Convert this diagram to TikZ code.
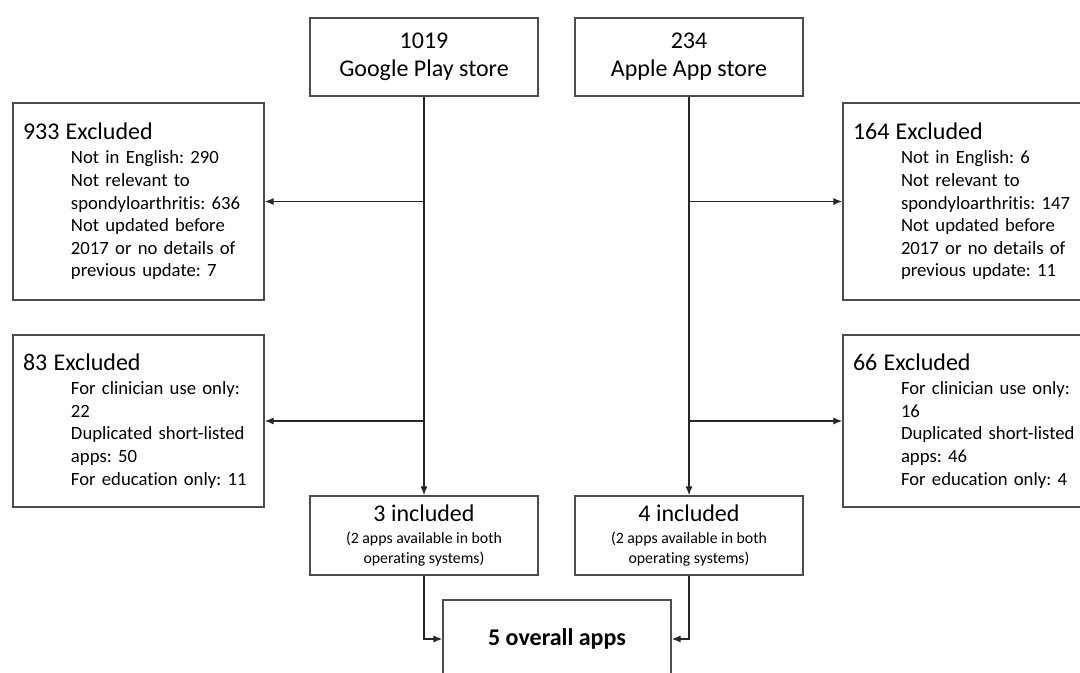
\documentclass[tikz,border=0pt]{standalone}
\usepackage{fontspec}
\setmainfont{Carlito}[Ligatures=NoCommon]
\usepackage{tikz}
\usetikzlibrary{arrows.meta}
\frenchspacing
\newcommand{\hsz}{\fontsize{12}{14}\selectfont}
\newcommand{\ssz}{\fontsize{9.35}{11.3}\selectfont}
\newcommand{\tsz}{\fontsize{7.9}{10}\selectfont}
\newcommand{\ind}{\hspace*{24pt}}

\begin{document}
\begin{tikzpicture}[x=0.5pt,y=-0.5pt,box/.style={shape=rectangle,draw=black!70,line width=0.7pt,inner sep=0pt},store/.style={box,minimum width=114pt,minimum height=39pt,align=center,font=\hsz},excl/.style={box,text width=115.5pt,inner xsep=5pt,align=left,font=\ssz},incl/.style={store,minimum height=39.5pt},arr/.style={draw=black!85,line width=0.7pt,-{Latex[length=4.5pt,width=3.6pt]}}]
\def\xa{424};
\def\xb{689};
\def\xl{138.5};
\def\xr{968.5};

\useasboundingbox (0,0) rectangle (1080,673);
\clip (0,0) rectangle (1080,673);

\node[store] (gp) at (\xa,57) {1019\\Google Play store};
\node[store] (ap) at (\xb,57) {234\\Apple App store};

\node[excl,minimum height=98.5pt] (gx1) at (\xl,201.5) {{\hsz 933 Excluded}\\[0.8pt]
\ind Not in English: 290\\ \ind Not relevant to\\ \ind spondyloarthritis: 636\\
\ind Not updated before\\ \ind 2017 or no details of\\ \ind previous update: 7};
\node[excl,minimum height=98.5pt] (ax1) at (\xr,201.5) {{\hsz 164 Excluded}\\[0.8pt]
\ind Not in English: 6\\ \ind Not relevant to\\ \ind spondyloarthritis: 147\\
\ind Not updated before\\ \ind 2017 or no details of\\ \ind previous update: 11};

\node[excl,minimum height=86pt] (gx2) at (\xl,421) {{\hsz 83 Excluded}\\[0.8pt]
\ind For clinician use only:\\ \ind 22\\ \ind Duplicated short-listed\\
\ind apps: 50\\ \ind For education only: 11};
\node[excl,minimum height=86pt] (ax2) at (\xr,421) {{\hsz 66 Excluded}\\[0.8pt]
\ind For clinician use only:\\ \ind 16\\ \ind Duplicated short-listed\\
\ind apps: 46\\ \ind For education only: 4};

\node[incl] (gi) at (\xa,535.5) {3 included\\[-2.9pt]{\tsz (2 apps available in both}\\[-4pt]{\tsz operating systems)}};
\node[incl] (ai) at (\xb,535.5) {4 included\\[-2.9pt]{\tsz (2 apps available in both}\\[-4pt]{\tsz operating systems)}};

\node[store,font=\hsz\bfseries] (ov) at (557,639) {5 overall apps};

\draw[arr] (gp) -- (gi);
\draw[arr] (ap) -- (ai);
\draw[arr] (gp.south |- gx1) -- (gx1.east);
\draw[arr] (ap.south |- ax1) -- (ax1.west);
\draw[arr] (gp.south |- gx2) -- (gx2.east);
\draw[arr] (ap.south |- ax2) -- (ax2.west);
\draw[arr] (gi) |- (ov);
\draw[arr] (ai) |- (ov);

\end{tikzpicture}
\end{document}
